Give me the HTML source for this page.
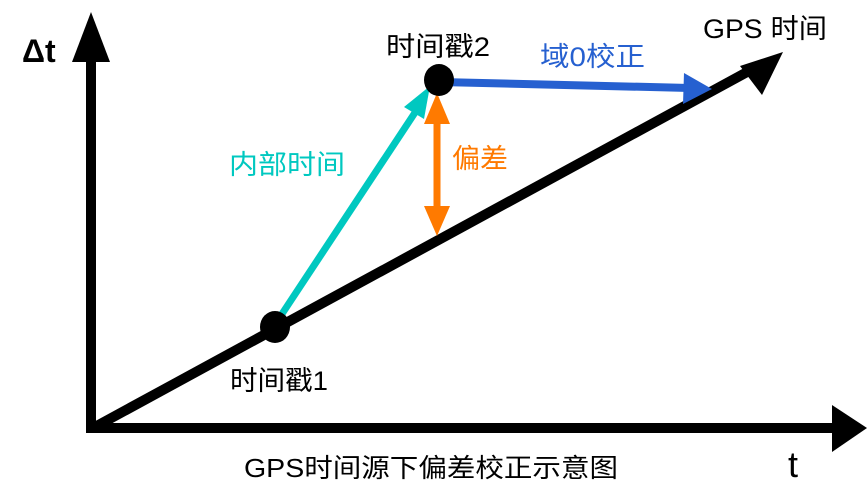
<!DOCTYPE html>
<html><head><meta charset="utf-8"><style>
body{margin:0;background:#fff}
svg text{font-family:"Liberation Sans","Noto Sans CJK SC",sans-serif}
</style></head><body>
<svg width="868" height="495" viewBox="0 0 868 495" xmlns="http://www.w3.org/2000/svg">
<rect width="868" height="495" fill="#fff"/>
<line x1="91" y1="433" x2="91" y2="55" stroke="#000" stroke-width="10"/>
<polygon points="91,12 72,62 110,62" fill="#000"/>
<line x1="86" y1="428" x2="835" y2="428" stroke="#000" stroke-width="10"/>
<polygon points="867,428 832,405 832,452" fill="#000"/>
<line x1="93" y1="428" x2="760" y2="65" stroke="#000" stroke-width="10"/>
<polygon points="783,52 740,66 762,95" fill="#000"/>
<line x1="276" y1="323" x2="420" y2="105" stroke="#00c8c0" stroke-width="7"/>
<polygon points="430,86 404,107 424,119" fill="#00c8c0"/>
<line x1="440" y1="82" x2="690" y2="88" stroke="#2660d0" stroke-width="8"/>
<polygon points="712,89 684,73 683,104" fill="#2660d0"/>
<line x1="437" y1="120" x2="437" y2="212" stroke="#ff7a00" stroke-width="7"/>
<polygon points="437,93 424,124 450,124" fill="#ff7a00"/>
<polygon points="437,236 424,206 450,206" fill="#ff7a00"/>
<ellipse cx="275" cy="327" rx="15" ry="16" fill="#000"/>
<ellipse cx="439" cy="80" rx="15" ry="16" fill="#000"/>
<text x="22" y="62" font-size="32" font-weight="bold">Δt</text>
<text x="386" y="56" font-size="27" textLength="104" lengthAdjust="spacingAndGlyphs">时间戳2</text>
<text x="540" y="66" font-size="27" fill="#2660d0" textLength="105" lengthAdjust="spacingAndGlyphs">域0校正</text>
<text x="703" y="38" font-size="27" textLength="124" lengthAdjust="spacingAndGlyphs">GPS 时间</text>
<text x="229" y="174" font-size="27" fill="#00c8c0" textLength="116" lengthAdjust="spacingAndGlyphs">内部时间</text>
<text x="452" y="168" font-size="27" fill="#ff7a00" textLength="56" lengthAdjust="spacingAndGlyphs">偏差</text>
<text x="230" y="390" font-size="27" textLength="98" lengthAdjust="spacingAndGlyphs">时间戳1</text>
<text x="244" y="477" font-size="26" textLength="374" lengthAdjust="spacingAndGlyphs">GPS时间源下偏差校正示意图</text>
<text x="788" y="477" font-size="36">t</text>
</svg>
</body></html>
